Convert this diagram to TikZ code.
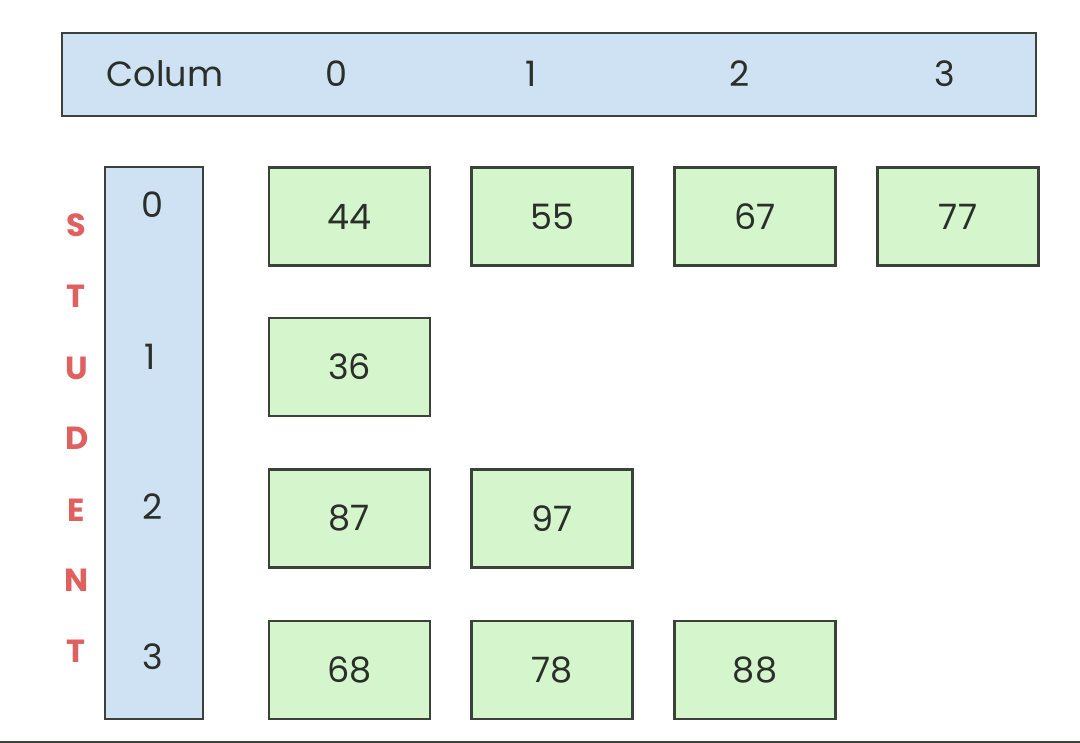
\documentclass[tikz,border=0pt]{standalone}
\usepackage{fontspec}
\setmainfont{Poppins}
\definecolor{hdrblue}{HTML}{CFE2F3}
\definecolor{cellgreen}{HTML}{D5F5CD}
\definecolor{edgegray}{HTML}{3A423A}
\definecolor{txtdark}{HTML}{2A2F2A}
\definecolor{stured}{HTML}{E06060}
\tikzset{
  box/.style={draw=edgegray, line width=2.2pt, inner sep=0pt},
  hdr/.style={box, fill=hdrblue},
  cell/.style={box, fill=cellgreen, minimum width=161pt, minimum height=98pt,
    font=\fontsize{35}{40}\selectfont, text=txtdark},
  lbl/.style={font=\fontsize{35}{40}\selectfont, text=txtdark, inner sep=0pt},
  stu/.style={font=\fontsize{32}{36}\selectfont\bfseries, text=stured, inner sep=0pt}
}
\begin{document}
\begin{tikzpicture}[x=1pt,y=-1pt]
\useasboundingbox (0,0) rectangle (1080,743);
% header
\node[hdr, minimum width=974pt, minimum height=83pt] (header) at (549,74.5) {};
\node[lbl] (hcol) at (165,74) {Colum};
\node[lbl] (h0) at (336,74) {0};
\node[lbl] (h1) at (531,74) {1};
\node[lbl] (h2) at (740,74) {2};
\node[lbl] (h3) at (945,74) {3};
% row index column
\node[hdr, minimum width=98pt, minimum height=552pt] (rowcol) at (154,443) {};
\node[lbl] (r0) at (152,205) {0};
\node[lbl] (r1) at (150,357) {1};
\node[lbl] (r2) at (153,507) {2};
\node[lbl] (r3) at (153,657) {3};
% STUDENT
\node[stu] (s1) at (76,225) {S};
\node[stu] (s2) at (76,296) {T};
\node[stu] (s3) at (77,368) {U};
\node[stu] (s4) at (77,438) {D};
\node[stu] (s5) at (76,510) {E};
\node[stu] (s6) at (77,580) {N};
\node[stu] (s7) at (76,651) {T};
% cells
\node[cell] (c00) at (349.5,216.5) {44};
\node[cell] (c01) at (552,216.5) {55};
\node[cell] (c02) at (755,216.5) {67};
\node[cell] (c03) at (958,216.5) {77};
\node[cell] (c10) at (349.5,367) {36};
\node[cell] (c20) at (349.5,518.5) {87};
\node[cell] (c21) at (552,518.5) {97};
\node[cell] (c30) at (349.5,670) {68};
\node[cell] (c31) at (552,670) {78};
\node[cell] (c32) at (755,670) {88};
% bottom rule
\draw[edgegray, line width=2pt] (0,741.5) -- (1080,741.5);
\end{tikzpicture}
\end{document}
